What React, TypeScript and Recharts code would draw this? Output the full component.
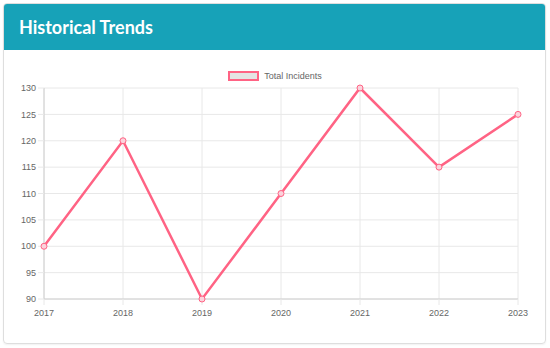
import React from "react";
import {
  LineChart,
  Line,
  XAxis,
  YAxis,
  CartesianGrid,
  Legend,
} from "recharts";

const years = ["2017", "2018", "2019", "2020", "2021", "2022", "2023"];
const incidents = [100, 120, 90, 110, 130, 115, 125];
const yTicks = [90, 95, 100, 105, 110, 115, 120, 125, 130];

const data = years.map((year, i) => ({ year, incidents: incidents[i] }));

const PINK = "#ff6384";
const tickStyle = { fontSize: 9, fill: "#666", fontFamily: "'Liberation Sans', Arial, sans-serif" };

const LegendBox = () => (
  <div
    style={{
      display: "flex",
      justifyContent: "center",
      alignItems: "center",
      height: 10,
      fontFamily: "'Liberation Sans', Arial, sans-serif",
      fontSize: 9,
      color: "#666",
    }}
  >
    <span
      style={{
        display: "inline-block",
        width: 27,
        height: 6,
        background: "#e4e4e4",
        border: `2px solid ${PINK}`,
        marginRight: 5,
      }}
    />
    Total Incidents
  </div>
);

const App: React.FC = () => (
  <div
    style={{
      position: "absolute",
      left: 0,
      top: 0,
      width: 550,
      height: 348,
      background: "#fff",
    }}
  >
    <div
      style={{
        position: "absolute",
        left: 3,
        top: 3,
        width: 541,
        height: 339,
        border: "1px solid #dedede",
        borderRadius: 4,
        overflow: "hidden",
        boxShadow: "0 1px 2px rgba(0,0,0,0.06)",
      }}
    >
      <div
        style={{
          height: 46,
          background: "#17a2b8",
          color: "#fff",
          fontFamily: "Lato, 'Open Sans', sans-serif",
          fontWeight: 700,
          fontSize: 18,
          lineHeight: "46px",
          paddingLeft: 15,
        }}
      >
        Historical Trends
      </div>
    </div>
    <div style={{ position: "absolute", left: 0, top: 0 }}>
      <LineChart
        width={550}
        height={348}
        data={data}
        margin={{ top: 78, right: 32, bottom: 19, left: 4 }}
      >
        <CartesianGrid stroke="#e8e8e8" />
        <Legend
          verticalAlign="top"
          content={LegendBox}
          wrapperStyle={{ top: 71, left: 0, width: 550, height: 10 }}
        />
        <XAxis
          dataKey="year"
          height={30}
          tick={tickStyle}
          tickSize={6}
          tickMargin={5}
          stroke="#d0d0d0"
          tickLine={{ stroke: "#e8e8e8" }}
          interval={0}
        />
        <YAxis
          width={40}
          domain={[90, 130]}
          ticks={yTicks}
          tick={tickStyle}
          tickSize={6}
          tickMargin={2}
          stroke="#d0d0d0"
          tickLine={{ stroke: "#e8e8e8" }}
          interval={0}
        />
        <Line
          type="linear"
          dataKey="incidents"
          stroke={PINK}
          strokeWidth={2.5}
          dot={{ r: 3, fill: "#fbd3dc", stroke: PINK, strokeWidth: 1 }}
          isAnimationActive={false}
        />
      </LineChart>
    </div>
  </div>
);

export default App;
